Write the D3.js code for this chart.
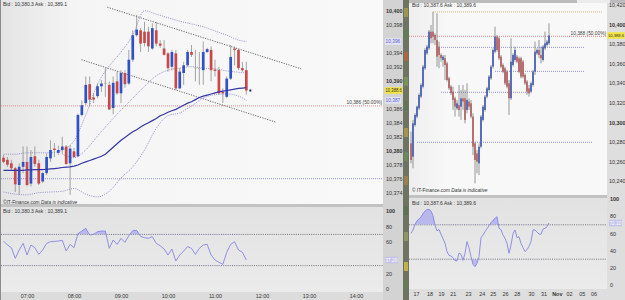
<!DOCTYPE html>
<html><head><meta charset="utf-8">
<script src="https://cdn.jsdelivr.net/npm/d3@7/dist/d3.min.js"></script>
<style>
html,body{margin:0;padding:0;background:#d6d6d6;overflow:hidden}
svg{display:block;font-family:"Liberation Sans",Arial,sans-serif}
</style></head><body>
<svg id="chart" width="625" height="300"></svg>
<script>
// ---------------- DATA ----------------
// Left chart: 5-minute candles starting 06:30
const leftStartHour = 6, leftStartMin = 30, leftStepMin = 5;
const leftOpen  = [10379.0,10378.7,10378.2,10377.5,10375.1,10377.7,10378.4,10375.3,10379.2,10378.2,10375.6,10376.8,10378.9,10380.3,10379.7,10380.1,10380.6,10378.2,10379.9,10379.2,10385.1,10386.8,10389.5,10387.6,10387.8,10389.2,10389.6,10389.4,10386.1,10389.9,10388.2,10391.1,10389.6,10393.0,10396.5,10397.2,10397.0,10397.0,10394.6,10397.2,10395.3,10394.6,10393.9,10392.0,10393.9,10388.9,10391.1,10392.2,10394.1,10391.9,10391.8,10391.5,10394.1,10394.4,10391.6,10391.5,10388.4,10387.7,10390.3,10394.6,10394.4,10391.8,10391.5];
const leftHigh  = [10379.4,10379.1,10378.7,10377.7,10378.2,10380.6,10380.6,10380.1,10380.6,10378.7,10377.0,10379.6,10381.5,10381.1,10380.7,10382.0,10380.8,10380.8,10380.4,10385.3,10387.2,10390.6,10390.6,10388.2,10389.6,10390.1,10391.9,10389.9,10390.6,10391.3,10391.5,10391.5,10394.4,10397.2,10399.4,10397.5,10398.4,10397.7,10398.2,10398.4,10395.8,10395.8,10394.1,10394.4,10394.4,10391.8,10392.7,10394.4,10395.1,10394.4,10394.1,10395.6,10394.7,10394.9,10393.0,10392.0,10388.9,10390.6,10395.1,10394.9,10394.6,10392.7,10392.7];
const leftLow   = [10378.2,10377.7,10377.2,10374.1,10373.7,10376.8,10374.9,10374.9,10377.7,10375.1,10375.4,10376.5,10378.4,10379.1,10379.4,10379.6,10378.0,10373.7,10379.0,10379.1,10384.9,10386.5,10386.3,10386.8,10387.5,10388.4,10387.7,10385.8,10385.2,10388.0,10386.8,10389.0,10389.4,10392.7,10396.3,10394.1,10394.9,10394.1,10394.4,10394.9,10394.7,10393.6,10391.3,10391.5,10388.7,10388.8,10389.4,10392.0,10393.4,10389.9,10389.4,10389.4,10394.0,10389.9,10390.6,10388.0,10386.8,10387.5,10390.1,10392.2,10391.5,10391.3,10388.0];
const leftClose = [10378.4,10378.0,10377.5,10375.2,10377.7,10378.4,10375.1,10379.1,10378.1,10375.3,10376.8,10379.1,10380.1,10380.1,10380.1,10380.6,10378.1,10380.3,10379.1,10385.1,10386.5,10389.4,10387.3,10387.3,10389.2,10389.6,10389.7,10385.9,10389.7,10388.2,10391.1,10389.5,10393.0,10396.5,10397.3,10395.3,10395.4,10394.9,10397.5,10395.3,10395.0,10393.7,10391.8,10394.1,10388.9,10391.3,10392.2,10394.1,10393.7,10391.9,10391.8,10394.1,10394.5,10391.5,10391.4,10388.2,10388.2,10390.3,10393.4,10394.4,10391.8,10391.5,10388.6];
const leftMA = [10377.2,10377.2,10377.2,10377.2,10377.2,10377.2,10377.25,10377.25,10377.3,10377.3,10377.3,10377.35,10377.4,10377.45,10377.5,10377.6,10377.65,10377.7,10377.8,10377.95,10378.2,10378.4,10378.6,10378.8,10379.0,10379.2,10379.5,10380.0,10380.5,10381.0,10381.5,10381.9,10382.3,10382.7,10383.0,10383.4,10383.7,10384.0,10384.3,10384.6,10385.0,10385.2,10385.5,10385.7,10385.9,10386.2,10386.5,10386.8,10387.0,10387.3,10387.6,10387.8,10387.95,10388.1,10388.25,10388.4,10388.5,10388.6,10388.7,10388.8,10388.9,10388.95,10389.0];
const bandIdx        = [0,3,6,9,12,15,18,21,24,27,30,33,36,39,42,45,48,51,54,57,60,62];
const bandUpperOuter = [10379.5,10379.5,10379.7,10379.7,10379.7,10380.1,10381.4,10385.1,10389.5,10392.1,10394.1,10396.5,10400.0,10399.5,10399.0,10398.5,10398.1,10397.7,10397.1,10396.5,10395.8,10395.6];
const bandLowerOuter = [10374.1,10373.8,10373.7,10374.0,10374.1,10374.2,10374.6,10373.8,10373.4,10374.2,10376.1,10377.7,10380.1,10383.2,10385.0,10385.4,10386.4,10387.5,10388.0,10388.1,10387.8,10387.2];
const bandInnerIdx   = [15,18,21,24,27,30,33,36,39,42,45,48,51,54,57,60,62];
const bandInner      = [10379.5,10379.0,10380.1,10382.1,10384.0,10385.8,10387.5,10389.2,10390.7,10391.5,10391.8,10392.0,10391.8,10391.7,10391.4,10391.2,10391.1];
const leftTrendUpper = [[26.5,10400.5],[76,10391.7]];
const leftTrendLower = [[19.9,10393.0],[69.4,10384.1]];
const leftRedLevel = 10386.4, leftBlueLevel = 10376.0;
const leftRSI = [61.5,56.4,53,39.3,50,58.5,43.6,56.4,53,44.4,50,58.5,60.7,61.1,61.5,62.4,48.7,57.2,53,70.9,74.3,77.8,69.2,70.1,73.5,74.3,74.3,52.1,62.8,57.2,64.9,59.8,68.4,74.8,75.2,67.5,65.8,65,67.1,58.5,55.5,51.3,43.6,51.3,35.9,43.6,48.7,54.3,52.1,44.4,52.1,56.4,57.2,43.6,37.2,34.2,31.6,47,57.2,60.7,50,47,37.2];
const leftPriceTicks = [10374,10376,10378,10380,10382,10384,10386,10388,10390,10392,10394,10396,10398,10400];
const leftTimeTicks = ["07:00","08:00","09:00","10:00","11:00","12:00","13:00","14:00"];
const leftHeader = "Bid : 10,380.3 Ask : 10,389.1";

// Right chart
const rightOpen  = [10278.5,10264.9,10297.3,10305.8,10314.3,10326.2,10336.4,10355.1,10370.4,10375.5,10392.5,10392.5,10389.1,10384.0,10377.2,10368.7,10363.6,10365.3,10360.2,10344.9,10336.4,10331.3,10324.5,10314.3,10317.7,10316.0,10324.5,10324.5,10312.6,10321.1,10319.4,10305.8,10278.5,10268.3,10258.1,10275.1,10302.4,10312.6,10326.2,10333.0,10344.9,10356.8,10372.1,10387.4,10385.7,10367.0,10358.5,10355.1,10351.7,10339.8,10324.5,10358.5,10363.6,10367.0,10365.3,10365.3,10361.9,10348.3,10341.5,10334.7,10331.3,10338.1,10351.7,10370.4,10373.8,10368.7,10363.6,10375.5,10378.9,10380.6];
const rightHigh  = [10290.5,10302.4,10309.2,10317.0,10329.6,10339.8,10358.5,10375.5,10378.9,10394.2,10399.3,10412.9,10390.8,10411.2,10382.3,10370.4,10368.7,10368.7,10361.9,10346.6,10338.1,10336.4,10326.2,10322.8,10338.1,10333.0,10338.1,10333.0,10339.8,10324.5,10322.8,10309.2,10280.2,10271.7,10278.5,10307.5,10317.7,10327.9,10336.4,10348.3,10358.5,10375.5,10397.6,10389.1,10387.4,10368.7,10360.2,10356.8,10353.4,10343.2,10385.7,10370.4,10377.2,10368.7,10367.0,10367.0,10363.6,10350.0,10343.2,10338.1,10341.5,10353.4,10382.3,10375.5,10384.0,10377.2,10378.9,10392.5,10384.0,10401.0];
const rightLow   = [10258.1,10253.0,10295.6,10304.1,10312.6,10324.5,10334.7,10353.4,10368.7,10373.8,10380.6,10380.6,10378.9,10356.8,10355.1,10361.9,10356.8,10343.2,10341.5,10333.0,10327.9,10312.6,10305.8,10312.6,10305.8,10302.4,10312.6,10299.0,10309.2,10312.6,10304.1,10266.6,10237.7,10247.9,10246.2,10273.4,10300.7,10310.9,10324.5,10331.3,10343.2,10355.1,10370.4,10372.1,10363.6,10355.1,10350.0,10338.1,10334.7,10307.5,10322.8,10356.8,10361.9,10360.2,10350.0,10344.9,10344.9,10338.1,10327.9,10326.2,10329.6,10336.4,10348.3,10368.7,10365.3,10360.2,10361.9,10373.8,10377.2,10378.9];
const rightClose = [10261.5,10299.0,10307.5,10316.0,10327.9,10338.1,10356.8,10373.8,10377.2,10392.5,10385.7,10387.4,10384.0,10367.0,10368.7,10365.3,10367.0,10358.5,10343.2,10334.7,10329.6,10322.8,10316.0,10319.4,10312.6,10324.5,10321.1,10302.4,10322.8,10316.0,10305.8,10275.1,10261.5,10259.8,10275.1,10305.8,10316.0,10326.2,10334.7,10346.6,10356.8,10373.8,10387.4,10373.8,10365.3,10356.8,10351.7,10339.8,10336.4,10324.5,10361.9,10368.7,10373.8,10361.9,10351.7,10346.6,10346.6,10339.8,10331.3,10329.6,10339.8,10351.7,10372.1,10373.8,10368.7,10365.3,10377.2,10380.6,10382.3,10388.6];
const rightRSI = [60,64,70.6,74.8,76.7,79,83,86,87.6,88,86,80.6,69.8,62.8,64.7,59,53.9,48.4,38.8,34.5,33.7,31.8,28.3,28,37.2,35.7,28.7,36.8,50.4,43.4,33,24,21.3,25.2,33,55,58,62,65.5,69,72.5,75.2,77.5,79.5,66,64.3,58,54.3,48.4,36.8,46.5,59.7,64,55,56.2,48.4,43.4,38.8,41,45,50.4,64,64,61.6,59.3,59,65,66,67.8,72.1];
// horizontal study levels: value, from candle index, to candle index
const rightLevelValues = [10412.6,10387.8,10376.5,10352.0,10330.6,10279.6];
const rightLevelFrom   = [11,-1,15,42,15,3];
const rightLevelTo     = [96,98,87,87,60,91];
const rightPriceTicks = [10240,10260,10280,10300,10320,10340,10360,10380,10400,10420];
const rightDayLabels = ["17","18","19","21","23","24","25","26","28","30","31","Nov","02","05","06"];
const rightDayPos    = [2.5,9.2,15,20.9,28.5,35.4,40.9,47,52.9,60,66.2,72.9,79,85.4,91.2];
const rightHeader = "Bid : 10,387.6 Ask : 10,389.6";
const rsiTicks = [0,20,40,60,80,100];

// ---------------- DRAWING ----------------
const FONT = '"Liberation Sans",Arial,sans-serif';
const svg = d3.select("#chart");
const defs = svg.append("defs");
function grad(id, stops, vertical){
  const g = defs.append("linearGradient").attr("id",id).attr("x1",0).attr("y1",0).attr("x2",vertical?0:1).attr("y2",vertical?1:0);
  stops.forEach(s=>g.append("stop").attr("offset",s[0]).attr("stop-color",s[1]));
}
grad("gMainL",[[0,"#e4e4e4"],[0.2,"#f5f5f5"],[1,"#f9f9f9"]]);
grad("gMainR",[[0,"#eeeeee"],[0.2,"#f8f8f8"],[1,"#f8f8f8"]]);
grad("gRsi",[[0,"#e2e2e2"],[1,"#ebebeb"]],true);
function clip(id,x,y,w,h){defs.append("clipPath").attr("id",id).append("rect").attr("x",x).attr("y",y).attr("width",w).attr("height",h);}
function rect(x,y,w,h,fill){return svg.append("rect").attr("x",x).attr("y",y).attr("width",w).attr("height",h).attr("fill",fill);}
function text(g,x,y,s,size,opts={}){
  return g.append("text").attr("x",x).attr("y",y).attr("font-size",size).attr("font-family",FONT)
    .attr("fill",opts.fill||"#333").attr("text-anchor",opts.anchor||"start").attr("font-weight",opts.bold?"bold":"normal")
    .attr("font-style",opts.italic?"italic":"normal").text(s);
}

// backgrounds
rect(0,0,625,300,"#d6d6d6");
rect(1,0,382,204,"url(#gMainL)");
rect(0,0,1,300,"#8c8c8c");
rect(383,0,20,300,"#d3d3d3");
rect(1,204,382,3,"#c2c2c2");
rect(1,207,382,85,"url(#gRsi)");
rect(1,292,382,8,"#dcdcdc");
// neighbouring window strip
rect(403,0,6,300,"#6f7362");
[[8,"#a9a04a"],[30,"#5d7f57"],[52,"#b8643e"],[77,"#7d9a5c"],[101,"#5e7651"],[128,"#b49c45"],[152,"#6b8f5e"],[176,"#a6824a"],[206,"#5d7050"],[232,"#94a062"],[262,"#d2c243"],[280,"#697b58"]]
  .forEach(d=>rect(404,d[0],4,9,d[1]).attr("opacity",0.8));
rect(409,0,216,3,"#bcbcbc");
rect(577,0,33,3,"#ececec");
rect(409,3,198,192,"url(#gMainR)");
rect(607,3,18,297,"#dedede");
rect(409,195,198,3,"#c2c2c2");
rect(409,198,198,91,"url(#gRsi)");
rect(409,289,198,11,"#dedede");

clip("cL",1,0,382,204);
clip("cLR",1,207,382,85);
clip("cR",409,3,198,192);
clip("cRR",409,198,198,91);

// ---------- LEFT MAIN ----------
const t0 = new Date(2012,9,31,leftStartHour,leftStartMin).getTime();
const tL = i => new Date(t0 + i*leftStepMin*60000);
const xL = d3.scaleTime().domain([new Date(t0-4.5*60000), new Date(t0+484.5*60000)]).range([0,383]);
const yL = d3.scaleLinear().domain([10380,10400]).range([150.7,10.7]);
const gL = svg.append("g").attr("clip-path","url(#cL)");
const xi = i => xL(tL(i));

// horizontal levels
gL.append("line").attr("x1",1).attr("x2",383).attr("y1",yL(leftRedLevel)).attr("y2",yL(leftRedLevel))
  .attr("stroke","#e08080").attr("stroke-width",0.9).attr("stroke-dasharray","1,1");
gL.append("line").attr("x1",1).attr("x2",383).attr("y1",yL(leftBlueLevel)).attr("y2",yL(leftBlueLevel))
  .attr("stroke","#8a8ad8").attr("stroke-width",0.9).attr("stroke-dasharray","1,1");
text(gL,382,yL(leftRedLevel)-1.5,d3.format(",.0f")(leftRedLevel)+" (50.00%)",4.8,{anchor:"end",fill:"#444"});

// trend lines
[leftTrendUpper,leftTrendLower].forEach(tr=>{
  gL.append("line").attr("x1",xi(tr[0][0])).attr("y1",yL(tr[0][1])).attr("x2",xi(tr[1][0])).attr("y2",yL(tr[1][1]))
    .attr("stroke","#555").attr("stroke-width",0.9).attr("stroke-dasharray","1.2,1.3");
});

// bands
const bandLine = (idx,vals)=>d3.line().curve(d3.curveMonotoneX).x((d,k)=>xi(idx[k])).y(d=>yL(d))(vals);
[[bandIdx,bandUpperOuter],[bandIdx,bandLowerOuter],[bandInnerIdx,bandInner]].forEach(b=>{
  gL.append("path").attr("d",bandLine(b[0],b[1])).attr("fill","none").attr("stroke","#8484cc")
    .attr("stroke-width",0.9).attr("stroke-dasharray","1,1.2");
});

// candles
function candles(g,n,xf,y,O,Hh,Lw,C,w,col,wickW){
  const idx = d3.range(n);
  g.append("g").selectAll("line").data(idx).join("line")
    .attr("x1",i=>xf(i)).attr("x2",i=>xf(i)).attr("y1",i=>y(Hh[i])).attr("y2",i=>y(Lw[i]))
    .attr("stroke",col.wick).attr("stroke-width",wickW);
  g.append("g").selectAll("rect").data(idx).join("rect")
    .attr("x",i=>xf(i)-w/2).attr("y",i=>y(Math.max(O[i],C[i])))
    .attr("width",w).attr("height",i=>Math.max(0.9,Math.abs(y(O[i])-y(C[i]))))
    .attr("fill",i=>Math.abs(C[i]-O[i])<0.15?col.doji:(C[i]>O[i]?col.up:col.down));
}
candles(gL,leftOpen.length,xi,yL,leftOpen,leftHigh,leftLow,leftClose,2.7,
  {up:"#2f52c6",down:"#c94848",doji:"#b5b5b5",wick:"#8e8e8e"},0.8);

// moving average
gL.append("path").attr("d",d3.line().x((d,i)=>xi(i)).y(d=>yL(d))(leftMA))
  .attr("fill","none").attr("stroke","#3535a8").attr("stroke-width",1.2);

// last price marker
const lastL = leftClose.length-1;
gL.append("rect").attr("x",xi(lastL)+3).attr("y",yL(leftClose[lastL])-1).attr("width",2).attr("height",2).attr("fill","#1c2450");

text(svg,3,5.6,leftHeader,5,{fill:"#333"});
const cpL = svg.append("text").attr("x",3).attr("y",203.6).attr("font-size",4.8).attr("font-family",FONT).attr("fill","#333");
cpL.append("tspan").text("©IT-Finance.com ");
cpL.append("tspan").attr("font-style","italic").text("Data is indicative");

// value tags on the axes (drawn over the axis strip)
function tag(x,y,w,label,bg,fg,fs=5.2,fit=true){
  svg.append("rect").attr("x",x).attr("y",y-3.3).attr("width",w).attr("height",6.6).attr("fill",bg);
  const t = svg.append("text").attr("x",x+0.5).attr("y",y+1.8).attr("font-size",fs).attr("font-family",FONT)
    .attr("fill",fg).text(label);
  if(fit) t.attr("textLength",w-1.2).attr("lengthAdjust","spacingAndGlyphs");
}
function axisWithTags(tx,scale,ticks,fmt,boldFn,tagYs){
  const shown = ticks.filter(t=>tagYs.every(ty=>Math.abs(scale(t)-ty)>4.5));
  const ax = svg.append("g").attr("transform",`translate(${tx},0)`)
    .call(d3.axisRight(scale).tickValues(shown).tickSize(0).tickPadding(2).tickFormat(fmt));
  ax.select(".domain").remove();
  ax.selectAll("text").attr("font-size",5.4).attr("font-family",FONT).attr("fill","#333")
    .attr("font-weight",d=>boldFn(d)?"bold":"normal");
}

// left price axis
const upLast = bandUpperOuter[bandUpperOuter.length-1], loLast = bandLowerOuter[bandLowerOuter.length-1];
axisWithTags(384,yL,leftPriceTicks,d3.format(","),d=>d%10===0,[yL(upLast),yL(loLast),yL(leftClose[lastL])]);
tag(385,yL(upLast),16,d3.format(",.0f")(upLast),"#e4e4f4","#5b5bd0");
tag(385,yL(loLast),16,d3.format(",.0f")(loLast),"#e4e4f4","#5b5bd0");
tag(385,yL(leftClose[lastL]),17.5,d3.format(",.1f")(leftClose[lastL]),"#f2e441","#333");

// ---------- LEFT RSI ----------
const yLR = d3.scaleLinear().domain([0,100]).range([289,211]);
const gLR = svg.append("g").attr("clip-path","url(#cLR)");
function rsiPanel(g,xf,y,vals,x0,x1,clipPrefix){
  [70,30].forEach(v=>g.append("line").attr("x1",x0).attr("x2",x1).attr("y1",y(v)).attr("y2",y(v))
    .attr("stroke","#555").attr("stroke-width",0.8).attr("stroke-dasharray","1,1.2"));
  clip(clipPrefix+"hi",x0,0,x1-x0,y(70));
  clip(clipPrefix+"lo",x0,y(30),x1-x0,300-y(30));
  g.append("path").attr("clip-path",`url(#${clipPrefix}hi)`)
    .attr("d",d3.area().x((d,i)=>xf(i)).y0(y(70)).y1(d=>y(d))(vals)).attr("fill","#aaaaf0").attr("opacity",0.75);
  g.append("path").attr("clip-path",`url(#${clipPrefix}lo)`)
    .attr("d",d3.area().x((d,i)=>xf(i)).y0(y(30)).y1(d=>y(d))(vals)).attr("fill","#aaaaf0").attr("opacity",0.75);
  g.append("path").attr("d",d3.line().x((d,i)=>xf(i)).y(d=>y(d))(vals))
    .attr("fill","none").attr("stroke","#8686e4").attr("stroke-width",0.9);
}
rsiPanel(gLR,xi,yLR,leftRSI,1,383,"lrsi");
text(svg,3,213.3,leftHeader,5,{fill:"#333"});
const lrLast = leftRSI[leftRSI.length-1];
axisWithTags(384,yLR,rsiTicks,d3.format("d"),d=>d===100,[yLR(lrLast)]);
tag(385,yLR(lrLast),13,d3.format(".2f")(lrLast),"#c4c4e8","#ffffff");

// left time axis
const leftTickDates = leftTimeTicks.map(s=>{const p=s.split(":");return new Date(2012,9,31,+p[0],+p[1]);});
const axLT = svg.append("g").attr("transform","translate(0,292)")
  .call(d3.axisBottom(xL).tickValues(leftTickDates).tickSize(0).tickPadding(2).tickFormat((d,i)=>leftTimeTicks[i]));
axLT.select(".domain").remove();
axLT.selectAll("text").attr("font-size",5.4).attr("font-family",FONT).attr("fill","#333");

// ---------- RIGHT MAIN ----------
const xR = d3.scaleLinear().domain([-0.5,98]).range([410,607]);
const yR = d3.scaleLinear().domain([10300,10400]).range([122.3,24.3]);
const gR = svg.append("g").attr("clip-path","url(#cR)");
const lvlCol = ["#c9b275","#dc7474","#8686d6","#8686d6","#8686d6","#8686d6"];
rightLevelValues.forEach((v,k)=>{
  gR.append("line").attr("x1",xR(rightLevelFrom[k])).attr("x2",xR(rightLevelTo[k])).attr("y1",yR(v)).attr("y2",yR(v))
    .attr("stroke",lvlCol[k]).attr("stroke-width",0.9).attr("stroke-dasharray","1,1");
});
text(gR,606,yR(rightLevelValues[1])-1.6,d3.format(",.0f")(rightLevelValues[1])+" (50.00%)",4.8,{anchor:"end",fill:"#444"});
candles(gR,rightOpen.length,i=>xR(i),yR,rightOpen,rightHigh,rightLow,rightClose,1.7,
  {up:"#4560b6",down:"#b46262",doji:"#aaaaaa",wick:"#6e6e6e"},0.7);
text(svg,412,7.4,rightHeader,5,{fill:"#333"});
const cpR = svg.append("text").attr("x",412).attr("y",192).attr("font-size",4.8).attr("font-family",FONT).attr("fill","#333");
cpR.append("tspan").text("© IT-Finance.com  ");
cpR.append("tspan").attr("font-style","italic").text("Data is indicative");

const lastR = rightClose.length-1;
axisWithTags(607,yR,rightPriceTicks,d3.format(","),d=>d%100===0,[yR(rightClose[lastR])]);
tag(607.4,yR(rightClose[lastR]),17.2,d3.format(",.1f")(rightClose[lastR]),"#f2e441","#333",4.2,false);

// ---------- RIGHT RSI ----------
const yRR = d3.scaleLinear().domain([0,100]).range([285,199]);
const gRR = svg.append("g").attr("clip-path","url(#cRR)");
rsiPanel(gRR,i=>xR(i),yRR,rightRSI,409,607,"rrsi");
text(svg,412,205.4,rightHeader,5,{fill:"#333"});
const rrLast = rightRSI[rightRSI.length-1];
axisWithTags(608,yRR,rsiTicks,d3.format("d"),d=>d===100,[yRR(rrLast)]);
tag(609,yRR(rrLast),13,d3.format(".2f")(rrLast),"#c4c4e8","#ffffff");

const axRT = svg.append("g").attr("transform","translate(0,290)")
  .call(d3.axisBottom(xR).tickValues(rightDayPos).tickSize(0).tickPadding(2).tickFormat((d,i)=>rightDayLabels[i]));
axRT.select(".domain").remove();
axRT.selectAll("text").attr("font-size",5.4).attr("font-family",FONT).attr("fill","#333")
  .attr("font-weight",(d,i)=>rightDayLabels[i]==="Nov"?"bold":"normal");
</script></body></html>
